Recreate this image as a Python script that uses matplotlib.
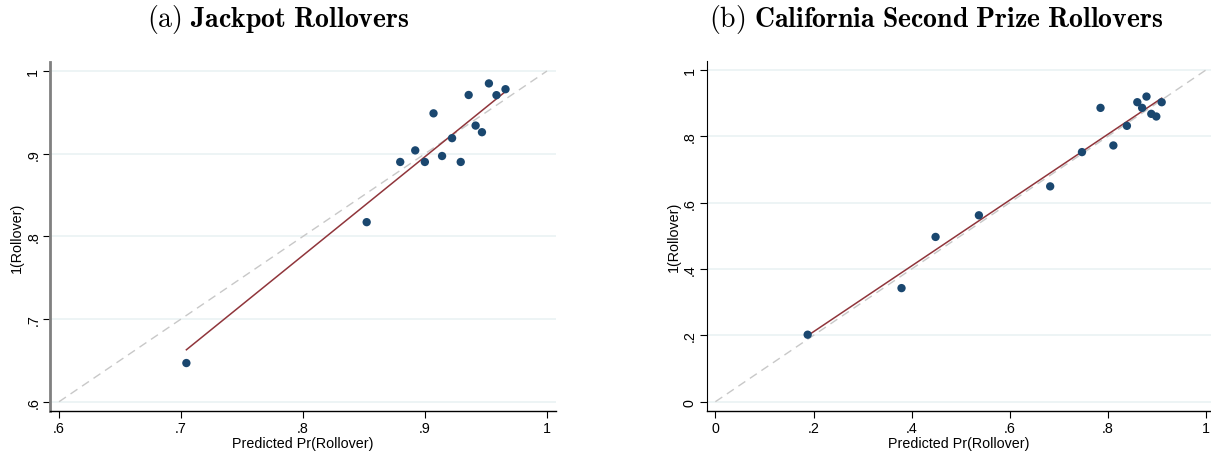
import numpy as np
import matplotlib.pyplot as plt

# binned predicted vs. realised rollover rates
jackpot_pred = [0.7044, 0.8522, 0.8797, 0.8920, 0.8999, 0.9070, 0.9140, 0.9222,
                0.9293, 0.9358, 0.9415, 0.9467, 0.9524, 0.9586, 0.9660]
jackpot_obs = [0.6468, 0.8172, 0.8900, 0.9040, 0.8900, 0.9488, 0.8972, 0.9188,
               0.8900, 0.9710, 0.9340, 0.9260, 0.9850, 0.9708, 0.9780]

second_pred = [0.1881, 0.3794, 0.4488, 0.5371, 0.6824, 0.7472, 0.7850, 0.8112,
               0.8388, 0.8600, 0.8698, 0.8787, 0.8885, 0.8987, 0.9097]
second_obs = [0.2020, 0.3424, 0.4967, 0.5619, 0.6491, 0.7524, 0.8857, 0.7724,
              0.8316, 0.9028, 0.8857, 0.9198, 0.8677, 0.8597, 0.9028]

# fitted line (intercept, slope) from the weighted regression
jackpot_fit = [-0.1782, 1.194]
second_fit = [0.0125, 0.992]

jackpot_ticks = [0.6, 0.7, 0.8, 0.9, 1.0]
second_ticks = [0.0, 0.2, 0.4, 0.6, 0.8, 1.0]

NAVY = "#1a476f"
MAROON = "#90353b"
GRID = "#eaf2f3"

plt.rcParams["font.family"] = ["Liberation Sans", "DejaVu Sans"]
plt.rcParams["mathtext.fontset"] = "cm"


def tick_label(v):
    # stata style: drop the leading zero
    if v == 1.0:
        return "1"
    if v == 0.0:
        return "0"
    return ("%.1f" % v).lstrip("0")


def calibration_panel(ax, pred, obs, fit, ticks, lo, hi):
    ax.plot([lo, hi], [lo, hi], color="#c8c8c8", lw=1.0, ls=(0, (6, 4)), zorder=1)
    ax.scatter(pred, obs, s=36, color=NAVY, edgecolors="none", zorder=3)

    # fit drawn over the range of the bins
    xs = np.array([min(pred), max(pred)])
    ax.plot(xs, fit[0] + fit[1] * xs, color=MAROON, lw=1.1, zorder=2)

    ax.set_xticks(ticks)
    ax.set_yticks(ticks)
    ax.set_xticklabels([tick_label(t) for t in ticks])
    ax.set_yticklabels([tick_label(t) for t in ticks], rotation=90, va="center")
    ax.tick_params(labelsize=10.3, length=5, width=0.8, color="black", pad=2)
    ax.grid(axis="y", color=GRID, lw=1.2)
    ax.set_axisbelow(True)
    for side in ["top", "right"]:
        ax.spines[side].set_visible(False)
    ax.spines["bottom"].set_linewidth(1.0)
    ax.set_xlabel("Predicted Pr(Rollover)", fontsize=10.3, labelpad=1)
    ax.set_ylabel("1(Rollover)", fontsize=10.3, labelpad=1.5)


fig = plt.figure(figsize=(12.11, 4.52), dpi=100)
W, H = 1211.0, 452.0

ax1 = fig.add_axes([50 / W, 40 / H, 506 / W, 349 / H])
calibration_panel(ax1, jackpot_pred, jackpot_obs, jackpot_fit, jackpot_ticks, 0.6, 1.0)
ax1.set_xlim(0.5926, 1.0074)
ax1.set_ylim(0.5888, 1.0109)
ax1.spines["left"].set_color("#808080")
ax1.spines["left"].set_linewidth(2.0)

ax2 = fig.add_axes([706.5 / W, 40 / H, 504.5 / W, 350 / H])
calibration_panel(ax2, second_pred, second_obs, second_fit, second_ticks, 0.0, 1.0)
ax2.set_xlim(-0.0181, 1.0102)
ax2.set_ylim(-0.028, 1.027)

fig.text(278 / W, 1 - 20 / H, r"$\mathrm{(a)}\ \mathbf{Jackpot\ Rollovers}$",
         ha="center", va="center", fontsize=20)
fig.text(936 / W, 1 - 20 / H, r"$\mathrm{(b)}\ \mathbf{California\ Second\ Prize\ Rollovers}$",
         ha="center", va="center", fontsize=20)

plt.savefig("out.png", dpi=100)
plt.close()
